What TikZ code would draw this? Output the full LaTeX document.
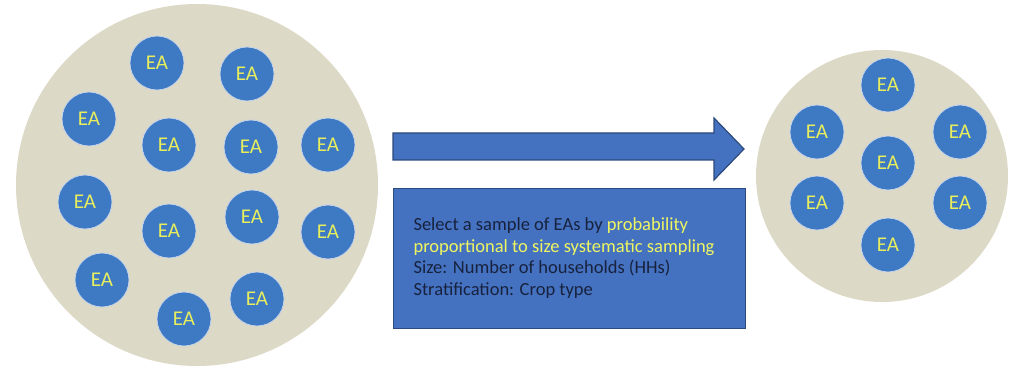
\documentclass[tikz,border=0pt]{standalone}
\usepackage{fontspec}
\setmainfont{Carlito}
\usetikzlibrary{positioning}
\definecolor{popbeige}{RGB}{221,217,199}
\definecolor{eablue}{RGB}{62,121,196}
\definecolor{eaedge}{RGB}{196,212,234}
\definecolor{eatext}{RGB}{232,238,92}
\definecolor{stepblue}{RGB}{68,114,192}
\definecolor{stepedge}{RGB}{44,74,124}
\definecolor{notetext}{RGB}{24,34,62}
\definecolor{notehl}{RGB}{240,246,96}
\tikzset{
  popcircle/.style={circle, fill=popbeige, inner sep=0pt},
  eanode/.style={circle, fill=eablue, draw=eaedge, line width=0.8pt, minimum size=54pt, inner sep=0pt, text=eatext, font=\fontsize{21}{22}\selectfont},
  stepbox/.style={draw=stepedge, fill=stepblue, line width=1.2pt, minimum width=352pt, minimum height=140pt, inner sep=0pt},
  steparrow/.style={draw=stepedge, fill=stepblue, line width=1.2pt, line join=miter},
  notetxt/.style={align=left, text=notetext, font=\fontsize{18.5}{21.7}\selectfont}
}
\begin{document}
\begin{tikzpicture}[x=1pt,y=-1pt]
  \useasboundingbox (0,0) rectangle (1011,366);

  % population of EAs
  \node[popcircle, minimum size=362pt] (frame) at (197,185) {};
  \foreach \x/\y [count=\i] in {157/63, 247/74, 89/119, 169/145, 251/147, 328/145,
      85/202, 169/231, 252/217, 328/232, 102/280, 184/319, 257/299}
    \node[eanode] (ea\i) at (\x,\y) {EA};

  % selection step
  \draw[steparrow] (393,133) -- (714,133) -- (714,118) -- (744,149)
    -- (714,180) -- (714,160) -- (393,160) -- cycle;
  \node[stepbox, anchor=north west] (note) at (393,188) {};
  \node[notetxt, anchor=west] (notetxt) at (410,258)
    {Select a sample of EAs by \textcolor{notehl}{probability}\\
     \textcolor{notehl}{proportional to size systematic sampling}\\
     Size: Number of households (HHs)\\
     Stratification: Crop type};

  % sample of EAs
  \node[popcircle, minimum size=252pt] (sample) at (882,176) {};
  \foreach \x/\y [count=\i] in {888/85, 817/132, 960/132, 888/163,
      817/203, 960/203, 888/245}
    \node[eanode] (sea\i) at (\x,\y) {EA};
\end{tikzpicture}
\end{document}
